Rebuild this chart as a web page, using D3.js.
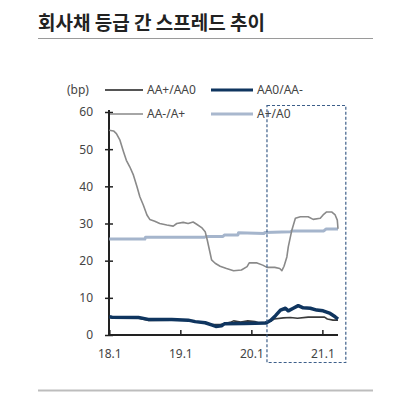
<!DOCTYPE html>
<html><head><meta charset="utf-8">
<script src="https://cdn.jsdelivr.net/npm/d3@7"></script>
<style>
html,body{margin:0;padding:0;background:#fff;}
svg{display:block;font-family:"Noto Sans CJK KR","Noto Sans",sans-serif;}
</style></head>
<body><svg id="c" width="402" height="393"></svg>
<script>
const title = "회사채 등급 간 스프레드 추이";
const unitLabel = "(bp)";
const seriesNames = ["AA+/AA0", "AA0/AA-", "AA-/A+", "A+/A0"];
const xTicks = [2018, 2019, 2020, 2021];
const xTickLabels = ["18.1", "19.1", "20.1", "21.1"];
const yTicks = [0, 10, 20, 30, 40, 50, 60];

// decimal year, bp
const aaPlusAA0 = [[2018.00,4.7],[2018.41,4.6],[2018.55,3.9],[2018.88,4.0],[2019.11,4.0],[2019.21,3.5],[2019.35,3.3],[2019.44,2.9],[2019.56,2.8],[2019.62,3.0],[2019.70,3.4],[2019.75,3.8],[2019.85,3.5],[2019.95,3.8],[2020.05,3.6],[2020.10,3.3],[2020.20,3.4],[2020.28,3.8],[2020.32,4.3],[2020.45,4.6],[2020.55,4.7],[2020.65,4.5],[2020.80,4.8],[2021.03,4.8],[2021.07,4.3],[2021.15,4.0],[2021.22,4.0]];
const aa0AAminus = [[2018.00,4.9],[2018.04,4.8],[2018.41,4.7],[2018.55,4.2],[2018.88,4.2],[2019.11,4.0],[2019.21,3.6],[2019.35,3.3],[2019.44,2.7],[2019.50,2.3],[2019.58,2.5],[2019.62,3.0],[2019.90,3.1],[2020.20,3.2],[2020.27,3.9],[2020.34,5.2],[2020.41,6.7],[2020.48,7.2],[2020.52,6.5],[2020.59,7.2],[2020.66,7.9],[2020.73,7.3],[2020.83,7.2],[2020.92,6.7],[2021.01,6.5],[2021.11,5.8],[2021.18,4.9],[2021.22,4.3]];
const aaMinusAPlus = [[2018.00,55.1],[2018.06,54.9],[2018.10,54.2],[2018.15,52.4],[2018.20,49.3],[2018.24,47.0],[2018.29,45.2],[2018.34,43.0],[2018.39,39.9],[2018.43,37.2],[2018.48,34.9],[2018.53,32.3],[2018.57,31.1],[2018.64,30.6],[2018.71,30.0],[2018.81,29.6],[2018.90,29.3],[2018.95,30.0],[2019.04,30.3],[2019.11,30.0],[2019.18,30.4],[2019.23,29.8],[2019.30,28.9],[2019.35,27.8],[2019.38,25.5],[2019.42,22.0],[2019.44,20.2],[2019.49,19.3],[2019.56,18.5],[2019.65,17.9],[2019.75,17.3],[2019.86,17.5],[2019.94,18.4],[2019.97,19.4],[2020.08,19.4],[2020.16,18.8],[2020.22,18.2],[2020.33,18.2],[2020.40,17.9],[2020.43,17.3],[2020.46,18.5],[2020.50,21.0],[2020.52,23.7],[2020.57,28.2],[2020.62,31.4],[2020.69,31.8],[2020.80,31.8],[2020.87,31.1],[2020.97,31.4],[2021.01,32.3],[2021.06,33.1],[2021.13,33.1],[2021.18,32.3],[2021.21,30.9],[2021.22,28.6]];
const aPlusA0 = [[2018.00,25.8],[2018.50,25.8],[2018.51,26.3],[2019.34,26.3],[2019.36,26.5],[2019.60,26.5],[2019.62,26.9],[2019.81,26.9],[2019.82,27.5],[2020.18,27.3],[2020.19,27.6],[2020.55,27.8],[2020.58,28.0],[2021.02,28.0],[2021.05,28.5],[2021.22,28.5]];
const highlightRange = [2020.22, 2021.33];

const svg = d3.select("#c");
const x = d3.scaleLinear().domain([2018, 2021.22]).range([109.3, 338]);
const y = d3.scaleLinear().domain([0, 60]).range([335, 112]);

// title
svg.append("text").attr("x", 38).attr("y", 30).attr("font-size", 19).attr("font-weight", 700)
  .attr("fill", "#222").text(title);
svg.append("line").attr("x1", 38).attr("x2", 373).attr("y1", 38.5).attr("y2", 38.5)
  .attr("stroke", "#9a9a9a").attr("stroke-width", 1);
svg.append("line").attr("x1", 38).attr("x2", 373).attr("y1", 390.5).attr("y2", 390.5)
  .attr("stroke", "#bdbdbd").attr("stroke-width", 2);

// axes
const yAxis = d3.axisLeft(y).tickValues(yTicks).tickSize(0).tickPadding(16);
const gy = svg.append("g").attr("transform", "translate(109,0)").call(yAxis);
gy.select(".domain").remove();
gy.selectAll("text").attr("font-size", 12).attr("fill", "#444").attr("font-family", "Noto Sans, sans-serif");
gy.selectAll(".tick").append("line").attr("x1", -4).attr("x2", 4).attr("stroke", "#222").attr("stroke-width", 1.5);

const xAxis = d3.axisBottom(x).tickValues(xTicks).tickFormat((d, i) => xTickLabels[i]).tickSize(0).tickPadding(14);
const gx = svg.append("g").attr("transform", "translate(0,335)").call(xAxis);
gx.select(".domain").remove();
gx.selectAll("text").attr("font-size", 12).attr("fill", "#444").attr("font-family", "Noto Sans, sans-serif");
gx.selectAll(".tick").append("line").attr("y1", -5).attr("y2", 0).attr("stroke", "#222").attr("stroke-width", 1.5);

svg.append("line").attr("x1", 109).attr("x2", 109).attr("y1", 110).attr("y2", 335.5).attr("stroke", "#222").attr("stroke-width", 2);
svg.append("line").attr("x1", 108).attr("x2", 338).attr("y1", 335).attr("y2", 335).attr("stroke", "#222").attr("stroke-width", 2);

// lines
const line = d3.line().x(d => x(d[0])).y(d => y(d[1]));
const styles = [
  {data: aPlusA0, color: "#a5b5cc", w: 3},
  {data: aaMinusAPlus, color: "#8a8a8a", w: 1.6},
  {data: aaPlusAA0, color: "#3a3a3a", w: 1.6},
  {data: aa0AAminus, color: "#0f355f", w: 3.5}
];
styles.forEach(s => {
  svg.append("path").datum(s.data).attr("d", line).attr("fill", "none")
    .attr("stroke", s.color).attr("stroke-width", s.w).attr("stroke-linejoin", "round");
});

// legend
svg.append("text").attr("x", 67).attr("y", 94).attr("font-size", 12).attr("fill", "#444")
  .attr("font-family", "Noto Sans, sans-serif").text(unitLabel);
const legend = [
  {name: seriesNames[0], color: "#555", w: 2, x1: 105, x2: 143, tx: 147, y: 90},
  {name: seriesNames[1], color: "#0f355f", w: 3, x1: 211, x2: 253, tx: 257, y: 90},
  {name: seriesNames[2], color: "#888", w: 1.5, x1: 110, x2: 143, tx: 147, y: 114},
  {name: seriesNames[3], color: "#a9b8ce", w: 3, x1: 211, x2: 253, tx: 257, y: 114}
];
legend.forEach(l => {
  svg.append("line").attr("x1", l.x1).attr("x2", l.x2).attr("y1", l.y).attr("y2", l.y)
    .attr("stroke", l.color).attr("stroke-width", l.w);
  svg.append("text").attr("x", l.tx).attr("y", l.y + 4).attr("font-size", 12).attr("fill", "#444")
    .attr("font-family", "Noto Sans, sans-serif").text(l.name);
});

// highlight box
svg.append("rect").attr("x", x(highlightRange[0])).attr("y", 105.5)
  .attr("width", x(highlightRange[1]) - x(highlightRange[0])).attr("height", 257)
  .attr("fill", "none").attr("stroke", "#3d5f8a").attr("stroke-width", 1.2).attr("stroke-dasharray", "3,2");
</script></body></html>
